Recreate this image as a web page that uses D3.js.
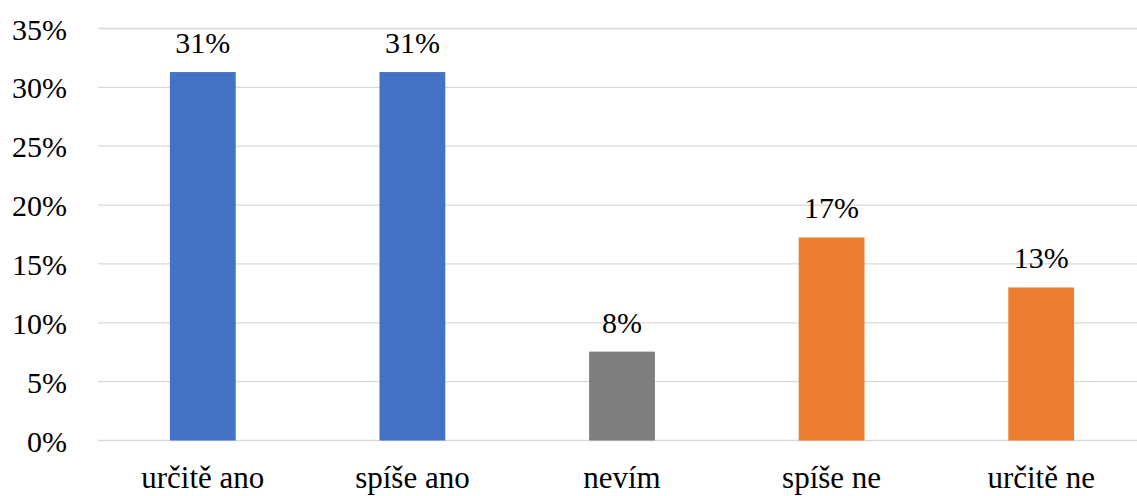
<!DOCTYPE html>
<html>
<head>
<meta charset="utf-8">
<script src="https://cdn.jsdelivr.net/npm/d3@7"></script>
</head>
<body style="margin:0;background:#fff;overflow:hidden">
<svg id="chart" width="1137" height="496" style="display:block">
</svg>
<script>
// Survey answers and their shares (percent)
const categories = ["určitě ano", "spíše ano", "nevím", "spíše ne", "určitě ne"];
const values = [31.3, 31.3, 7.55, 17.25, 13.0];
const barColors = ["#4472C4", "#4472C4", "#7F7F7F", "#ED7D31", "#ED7D31"];
const yTicks = [0, 5, 10, 15, 20, 25, 30, 35];

const textStyle = size => `font-family:'Liberation Serif' !important;font-size:${size}px`;

const svg = d3.select("#chart");
const plot = { left: 98, right: 1146, top: 28.5, bottom: 440.5 };

const x = d3.scaleBand()
  .domain(categories)
  .range([plot.left, plot.right])
  .paddingInner(0.686)
  .paddingOuter(0.343);

const y = d3.scaleLinear()
  .domain([0, 35])
  .range([plot.bottom, plot.top]);

// Horizontal gridlines
svg.append("g")
  .selectAll("line")
  .data(yTicks)
  .join("line")
  .attr("x1", plot.left)
  .attr("x2", plot.right)
  .attr("y1", d => y(d))
  .attr("y2", d => y(d))
  .attr("stroke", "#D9D9D9")
  .attr("stroke-width", 1.3);

// Bars
svg.append("g")
  .selectAll("rect")
  .data(values)
  .join("rect")
  .attr("x", (d, i) => x(categories[i]))
  .attr("width", x.bandwidth())
  .attr("y", d => y(d))
  .attr("height", d => y(0) - y(d))
  .attr("fill", (d, i) => barColors[i]);

// Y axis labels (percent ticks)
const yAxis = d3.axisLeft(y)
  .tickValues(yTicks)
  .tickFormat(d => d + "%")
  .tickSize(0)
  .tickPadding(31);

svg.append("g")
  .attr("transform", `translate(${plot.left},0)`)
  .call(yAxis)
  .call(g => g.select(".domain").remove())
  .call(g => g.attr("font-family", null).attr("font-size", null))
  .call(g => g.selectAll("text")
    .attr("style", textStyle(30))
    .attr("fill", "#000")
    .attr("dy", "0.35em"));

// Value labels above bars
svg.selectAll("text.value")
  .data(values)
  .join("text")
  .attr("class", "value")
  .attr("x", (d, i) => x(categories[i]) + x.bandwidth() / 2)
  .attr("y", d => y(d) - 19)
  .attr("text-anchor", "middle")
  .attr("fill", "#000")
  .attr("style", textStyle(30))
  .text(d => Math.round(d) + "%");

// Category labels
const xAxis = d3.axisBottom(x).tickSize(0).tickPadding(0);
svg.append("g")
  .attr("transform", `translate(0,${plot.bottom})`)
  .call(xAxis)
  .call(g => g.select(".domain").remove())
  .call(g => g.attr("font-family", null).attr("font-size", null))
  .call(g => g.selectAll("text")
    .attr("style", textStyle(31))
    .attr("fill", "#000")
    .attr("y", 47.5)
    .attr("dy", 0));
</script>
</body>
</html>
